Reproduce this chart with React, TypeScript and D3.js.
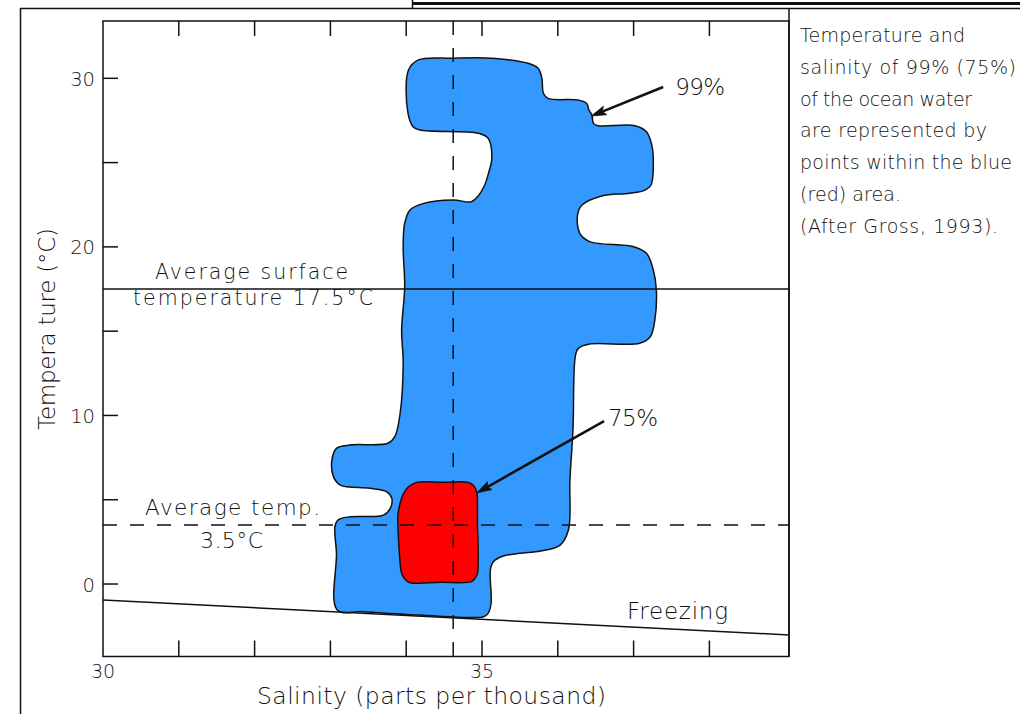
import React from "react";
import * as d3 from "d3";

// Salinity (ppt) and temperature (°C) axis ticks
const salinityTicks = [31, 32, 33, 34, 35, 36, 37, 38];
const salinityLabels = [30, 35];
const temperatureTicks = [0, 5, 10, 15, 20, 25, 30];
const temperatureLabels = [0, 10, 20, 30];

// Envelope holding 99% of ocean water: [salinity, temperature]
const ocean99: [number, number][] = [
  [34.03, 30.49], [34.16, 31.09], [34.62, 31.19], [35.13, 31.19], [35.61, 30.89],
  [35.74, 30.59], [35.79, 30.0], [35.81, 29.11], [35.87, 28.81], [36.27, 28.71],
  [36.38, 28.52], [36.41, 28.12], [36.45, 27.82], [36.47, 27.33], [36.53, 27.19],
  [37.02, 27.19], [37.17, 26.83], [37.24, 26.04], [37.26, 25.05], [37.23, 23.67],
  [37.15, 23.37], [36.95, 23.18], [36.58, 23.02], [36.32, 22.48], [36.26, 21.89],
  [36.29, 20.8], [36.42, 20.31], [37.0, 20.01], [37.17, 19.62], [37.26, 18.63],
  [37.3, 17.44], [37.28, 15.66], [37.22, 14.67], [37.08, 14.28], [36.42, 14.24],
  [36.27, 13.98], [36.23, 13.48], [36.2, 9.14], [36.16, 6.17], [36.14, 3.2],
  [36.03, 2.31], [35.77, 1.96], [35.5, 1.82], [35.28, 1.66], [35.15, 1.32],
  [35.11, 0.83], [35.12, -1.14], [35.08, -1.74], [35.02, -1.94], [34.18, -1.84],
  [33.43, -1.64], [33.09, -1.54], [33.08, 1.82], [33.06, 3.4], [33.1, 3.8],
  [33.26, 3.99], [33.7, 4.09], [33.79, 4.49], [33.81, 5.08], [33.74, 5.48],
  [33.52, 5.68], [33.13, 5.87], [33.04, 6.37], [33.02, 7.36], [33.08, 8.05],
  [33.26, 8.25], [33.76, 8.35], [33.85, 8.74], [33.92, 10.13], [33.96, 13.09],
  [33.94, 15.07], [33.98, 17.64], [33.96, 20.01], [33.98, 21.4], [34.05, 22.19],
  [34.23, 22.58], [34.62, 22.78], [34.86, 22.68], [34.95, 23.02], [35.03, 23.61],
  [35.09, 24.44], [35.13, 25.25], [35.08, 26.44], [34.95, 26.74], [34.18, 26.93],
  [34.09, 27.13], [34.02, 28.02],
];

// Envelope holding 75% of ocean water
const ocean75: [number, number][] = [
  [34.14, 6.03], [34.48, 6.03], [34.82, 6.03], [34.89, 5.83], [34.93, 5.48],
  [34.94, 4.5], [34.94, 3.6], [34.95, 1.82], [34.94, 0.63], [34.91, 0.35],
  [34.86, 0.14], [34.45, 0.1], [34.05, 0.08], [33.98, 0.3], [33.94, 0.63],
  [33.91, 1.82], [33.89, 3.6], [33.89, 4.09], [33.92, 4.79], [33.96, 5.34],
  [34.03, 5.77],
];

const freezingLine: [number, number][] = [[30, -0.95], [39.05, -3.02]];
const averageSurfaceTemp = 17.5;
const averageTemp = 3.5;
const averageSalinity = 34.62;

// Arrow start → tip, in [salinity, temperature]
const arrow99: [number, number][] = [[37.39, 29.48], [36.44, 27.76]];
const arrow75: [number, number][] = [[36.61, 9.67], [34.93, 5.4]];

const noteLines = [
  "Temperature and",
  "salinity of 99% (75%)",
  "of the ocean water",
  "are represented by",
  "points within the blue",
  "(red) area.",
  "(After Gross, 1993).",
];
const noteWidths = [165, 216, 172, 187, 212, 101, 198];

const W = 1020;
const H = 714;
const FONT = "'DejaVu Sans', 'Open Sans', sans-serif";
const INK = "#111";

const x = d3.scaleLinear().domain([30, 39.05]).range([103, 789]);
const y = d3.scaleLinear().domain([-4.3, 33.4]).range([656.5, 21]);

function Arrow({ pts }: { pts: [number, number][] }) {
  const [x0, y0] = [x(pts[0][0]), y(pts[0][1])];
  const [x1, y1] = [x(pts[1][0]), y(pts[1][1])];
  const len = Math.hypot(x1 - x0, y1 - y0);
  const ux = (x1 - x0) / len;
  const uy = (y1 - y0) / len;
  const L = 15;
  const hw = 4.5;
  const bx = x1 - ux * L;
  const by = y1 - uy * L;
  const head = `M${x1},${y1}L${bx - uy * hw},${by + ux * hw}L${bx + ux * 3},${by + uy * 3}L${bx + uy * hw},${by - ux * hw}Z`;
  return (
    <g>
      <line x1={x0} y1={y0} x2={bx + ux * 3} y2={by + uy * 3} stroke={INK} strokeWidth={2.6} />
      <path d={head} fill={INK} stroke={INK} strokeWidth={0.8} strokeLinejoin="round" />
    </g>
  );
}

export default function App() {
  const left = x(30);
  const right = x(39.05);
  const top = y(33.4);
  const bottom = y(-4.3);

  const area = d3
    .line<[number, number]>()
    .x((d) => x(d[0]))
    .y((d) => y(d[1]))
    .curve(d3.curveCatmullRomClosed.alpha(0.5));

  const textStyle = { fontFamily: FONT, fontSize: 19.5, fontWeight: 200, fill: INK } as const;

  return (
    <svg
      width={W}
      height={H}
      viewBox={`0 0 ${W} ${H}`}
      style={{ position: "absolute", left: 0, top: 0, background: "#fff" }}
    >
      <rect width={W} height={H} fill="#fff" />

      {/* window frame */}
      <line x1={20} y1={8.5} x2={W} y2={8.5} stroke={INK} strokeWidth={1.5} />
      <line x1={20.5} y1={8} x2={20.5} y2={H} stroke={INK} strokeWidth={1.5} />
      <line x1={412} y1={3.5} x2={W} y2={3.5} stroke={INK} strokeWidth={3} />
      <line x1={412.5} y1={0} x2={412.5} y2={8} stroke={INK} strokeWidth={1.5} />
      <line x1={right} y1={8} x2={right} y2={bottom} stroke={INK} strokeWidth={1.5} />

      {/* water envelopes */}
      <path d={area(ocean99) ?? ""} fill="#3399ff" stroke={INK} strokeWidth={1.5} />
      <path d={area(ocean75) ?? ""} fill="#ff0000" stroke={INK} strokeWidth={1.5} />

      {/* reference lines */}
      <line x1={left} x2={right} y1={y(averageSurfaceTemp)} y2={y(averageSurfaceTemp)} stroke={INK} strokeWidth={1.3} />
      <line x1={left} x2={right} y1={y(averageTemp)} y2={y(averageTemp)} stroke={INK} strokeWidth={1.5} strokeDasharray="14 13" />
      <line x1={x(averageSalinity)} x2={x(averageSalinity)} y1={top} y2={bottom} stroke={INK} strokeWidth={1.5} strokeDasharray="14 13" />
      <line
        x1={x(freezingLine[0][0])}
        y1={y(freezingLine[0][1])}
        x2={x(freezingLine[1][0])}
        y2={y(freezingLine[1][1])}
        stroke={INK}
        strokeWidth={1.5}
      />

      {/* plot frame and ticks */}
      <rect x={left} y={top} width={right - left} height={bottom - top} fill="none" stroke={INK} strokeWidth={1.5} />
      {salinityTicks.map((s) => (
        <g key={`s${s}`}>
          <line x1={x(s)} x2={x(s)} y1={top} y2={top + 15} stroke={INK} strokeWidth={1.5} />
          <line x1={x(s)} x2={x(s)} y1={bottom - 16} y2={bottom} stroke={INK} strokeWidth={1.5} />
        </g>
      ))}
      {temperatureTicks.map((t) => (
        <line key={`t${t}`} x1={left} x2={left + 15} y1={y(t)} y2={y(t)} stroke={INK} strokeWidth={1.5} />
      ))}
      {salinityLabels.map((s) => (
        <text key={`sl${s}`} x={x(s)} y={677.5} textAnchor="middle" {...textStyle} fontSize={19}>
          {s}
        </text>
      ))}
      {temperatureLabels.map((t) => (
        <text key={`tl${t}`} x={95} y={y(t) + 7.5} textAnchor="end" {...textStyle}>
          {t}
        </text>
      ))}

      {/* axis titles */}
      <text x={257} y={704} textLength={349} lengthAdjust="spacing" {...textStyle} fontSize={23.5}>
        Salinity (parts per thousand)
      </text>
      <text
        transform={`translate(55,430) rotate(-90)`}
        textLength={202}
        lengthAdjust="spacing"
        {...textStyle}
        fontSize={23}
      >
        Tempera ture (°C)
      </text>

      {/* annotations */}
      <text x={155} y={y(averageSurfaceTemp) - 10} textLength={193} lengthAdjust="spacing" {...textStyle} fontSize={20.5}>
        Average surface
      </text>
      <text x={133} y={y(averageSurfaceTemp) + 16} textLength={240} lengthAdjust="spacing" {...textStyle} fontSize={20.5}>
        temperature 17.5°C
      </text>
      <text x={145} y={y(averageTemp) - 10} textLength={175} lengthAdjust="spacing" {...textStyle} fontSize={21.5}>
        Average temp.
      </text>
      <text x={200} y={y(averageTemp) + 23} textLength={63} lengthAdjust="spacing" {...textStyle} fontSize={22}>
        3.5°C
      </text>
      <text x={627} y={619} textLength={101} lengthAdjust="spacing" {...textStyle} fontSize={23}>
        Freezing
      </text>

      <Arrow pts={arrow99} />
      <Arrow pts={arrow75} />
      <text x={x(arrow99[0][0]) + 12} y={y(arrow99[0][1]) + 8} textLength={50} lengthAdjust="spacing" {...textStyle} fontSize={23}>
        99%
      </text>
      <text x={x(arrow75[0][0]) + 4} y={y(arrow75[0][1]) + 5} textLength={50} lengthAdjust="spacing" {...textStyle} fontSize={23}>
        75%
      </text>

      {/* side note */}
      {noteLines.map((line, i) => (
        <text
          key={line}
          x={800}
          y={42 + i * 31.8}
          textLength={noteWidths[i]}
          lengthAdjust="spacing"
          {...textStyle}
          fontSize={19}
        >
          {line}
        </text>
      ))}
    </svg>
  );
}
